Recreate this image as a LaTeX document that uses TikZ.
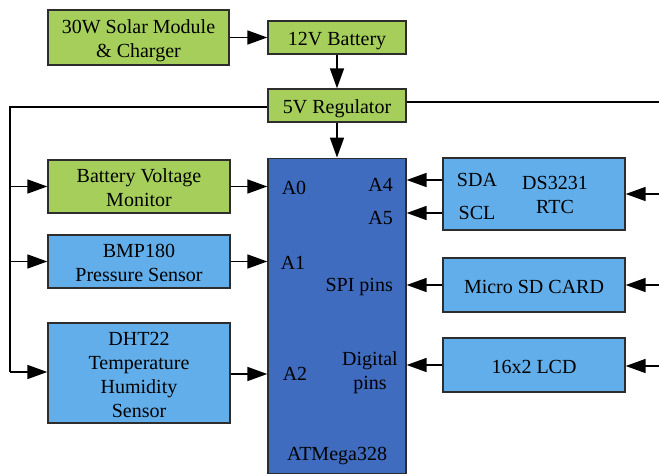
\documentclass[tikz,border=0pt]{standalone}
\usepackage{fontspec}
\setmainfont{Liberation Serif}
\usetikzlibrary{arrows.meta,calc}
\definecolor{grn}{RGB}{165,207,90}
\definecolor{lblue}{RGB}{98,174,234}
\definecolor{dblue}{RGB}{63,108,190}
\definecolor{edge}{RGB}{45,45,45}
\begin{document}
\begin{tikzpicture}[x=1pt,y=-1pt,
  box/.style={draw=edge,line width=1.4pt,align=center,inner sep=0pt,
    font=\fontsize{20}{24}\selectfont,text=black,text depth=0pt,text height=16pt},
  two/.style={text height=39pt},
  four/.style={text height=89pt},
  gbox/.style={box,fill=grn},
  bbox/.style={box,fill=lblue},
  lbl/.style={inner sep=0pt,font=\fontsize{20}{24}\selectfont,text=black},
  arr/.style={line width=1.7pt,-{Triangle[length=20pt,width=14pt]}},
  ln/.style={line width=1.7pt}]
\useasboundingbox (0,0) rectangle (659,474);
% nodes
\node[gbox,two,minimum width=181pt,minimum height=55pt] (solar) at (138.5,37.5) {30W Solar Module\\\& Charger};
\node[gbox,minimum width=138pt,minimum height=33pt] (bat) at (337,37.5) {12V Battery};
\node[gbox,minimum width=138pt,minimum height=33pt] (reg) at (337,105.5) {5V Regulator};
\node[box,fill=dblue,minimum width=138pt,minimum height=315pt] (atm) at (337,315.75) {};
\node[gbox,two,minimum width=182pt,minimum height=53pt] (bvm) at (139,186.5) {Battery Voltage\\Monitor};
\node[bbox,two,minimum width=182pt,minimum height=53pt] (bmp) at (139,261.5) {BMP180\\Pressure Sensor};
\node[bbox,four,minimum width=182pt,minimum height=100pt] (dht) at (139,373) {DHT22\\Temperature\\Humidity\\Sensor};
\node[bbox,minimum width=182pt,minimum height=72pt] (rtc) at (534,194) {};
\node[bbox,minimum width=182pt,minimum height=54pt] (sd) at (534,285) {Micro SD CARD};
\node[bbox,minimum width=182pt,minimum height=54pt] (lcd) at (534,365) {16x2 LCD};
% labels
\node[lbl] (sda) at (477,180) {SDA};
\node[lbl] (scl) at (477,213) {SCL};
\node[lbl,align=center] (rtct) at (555,195) {DS3231\\RTC};
\node[lbl] (a0) at (294,188) {A0};
\node[lbl] (a1) at (293,263) {A1};
\node[lbl] (a2) at (295,374) {A2};
\node[lbl,anchor=east] (a4) at (393,185) {A4};
\node[lbl,anchor=east] (a5) at (393,218) {A5};
\node[lbl,anchor=east] (spi) at (393,287) {SPI pins};
\node[lbl,align=center] (dig) at (370,373) {Digital\\pins};
\node[lbl] (atmt) at (337,456) {ATMega328};
% coordinates
\coordinate (lx) at (10,107);
\coordinate (lb) at (10,372);
\coordinate (r0) at (659,102);
\coordinate (r1) at (659,194);
\coordinate (r2) at (659,285);
\coordinate (r3) at (659,366);
% connectors
\draw[arr] (solar.east |- bat.west) -- (bat.west);
\draw[arr] (bat.south) -- (reg.north);
\draw[arr] (reg.south) -- (atm.north);
\draw[ln] ([yshift=-1.5pt]reg.west) -- (lx) -- (lb);
\draw[arr] (lb) -- (dht.west |- lb);
\draw[arr] (lx |- bvm.west) -- (bvm.west);
\draw[arr] (lx |- bmp.west) -- (bmp.west);
\draw[ln] (reg.east |- r0) -- (r0);
\draw[arr] (bvm.east) -- (bvm.east -| atm.west);
\draw[arr] (bmp.east) -- (bmp.east -| atm.west);
\draw[arr] (dht.east |- a2) -- (atm.west |- a2);
\draw[arr] (rtc.west |- sda) -- (atm.east |- sda);
\draw[arr] (rtc.west |- scl) -- (atm.east |- scl);
\draw[arr] (sd.west) -- (sd.west -| atm.east);
\draw[arr] (lcd.west) -- (lcd.west -| atm.east);
\draw[arr] (r1) -- (rtc.east |- r1);
\draw[arr] (r2) -- (sd.east |- r2);
\draw[arr] (r3) -- (lcd.east |- r3);
\end{tikzpicture}
\end{document}
